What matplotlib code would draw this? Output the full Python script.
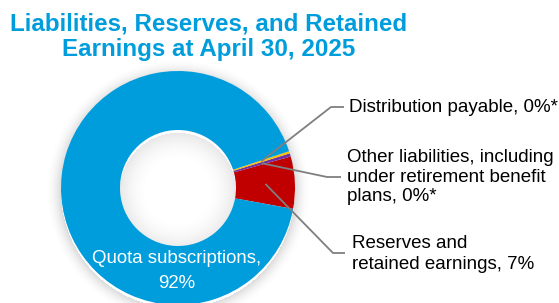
import numpy as np
import matplotlib
matplotlib.use('Agg')
import matplotlib.pyplot as plt

W, H = 559, 303

categories = ['Reserves and\nretained earnings, 7%',
              'Other liabilities, including\nunder retirement benefit\nplans, 0%*',
              'Distribution payable, 0%*',
              'Quota subscriptions,\n92%']
shares = [7.2, 0.45, 0.3, 92.05]
colors = ['#C00000', '#7030A0', '#FFC000', '#009DDC']
title = 'Liabilities, Reserves, and Retained\nEarnings at April 30, 2025'

plt.rcParams['font.family'] = ['Liberation Sans', 'DejaVu Sans']

fig = plt.figure(figsize=(W / 100, H / 100), dpi=100)
ax = fig.add_axes([0, 0, 1, 1])


def Y(y):
    # image rows -> axis units
    return H - y


cx, cy = 178, Y(188)
r_out, r_in = 117, 58

# soft shadow around the ring
yy, xx = np.mgrid[0:H, 0:W]
d = np.hypot(xx + 0.5 - cx, (H - yy - 0.5) - cy + 3)
outer = np.clip(1 - (d - r_out) / 16, 0, 1) * (d > r_out)
inner = np.clip(1 - (r_in - d) / 30, 0, 1) * (d < r_in)
alpha = 0.22 * outer ** 2 + 0.14 * inner ** 2
shade = np.zeros((H, W, 4))
shade[..., :3] = 0.35
shade[..., 3] = alpha
ax.imshow(shade, extent=(0, W, 0, H), origin='upper', zorder=0)

wedges, _ = ax.pie(shares, colors=colors, startangle=-10.3, counterclock=True,
                   center=(cx, cy), radius=r_out,
                   wedgeprops=dict(width=r_out - r_in, linewidth=0))

ax.set_xlim(0, W)
ax.set_ylim(0, H)
ax.set_aspect('equal')
ax.axis('off')

fig.text(209 / W, 1 - 12 / H, title, ha='center', va='top', fontsize=17.4,
         fontweight='bold', color='#009DDC', linespacing=1.16)

ax.text(177, Y(271), categories[3], ha='center', va='center', fontsize=13.4,
        color='white', linespacing=1.55)

# leader lines: start mid-ring at wedge centre, elbow, short horizontal
elbows = [((333, 253), (345, 253)), ((327, 177), (341, 177)), ((331, 107), (344, 107))]
label_pos = [(352, 254), (347, 177), (349, 108)]
spacing = [1.35, 1.22, 1.2]
for w, (e1, e2), (tx, ty), txt, ls in zip(wedges[:3], elbows, label_pos, categories[:3], spacing):
    a = np.deg2rad((w.theta1 + w.theta2) / 2)
    rm = (r_out + r_in) / 2
    sx, sy = cx + rm * np.cos(a), cy + rm * np.sin(a)
    ax.plot([sx, e1[0], e2[0]], [sy, Y(e1[1]), Y(e2[1])], color='#7F7F7F', lw=1.3,
            solid_capstyle='butt', zorder=5)
    ax.text(tx, Y(ty), txt, ha='left', va='center', fontsize=13.5, color='black',
            linespacing=ls)

fig.savefig('out.png', dpi=100)
